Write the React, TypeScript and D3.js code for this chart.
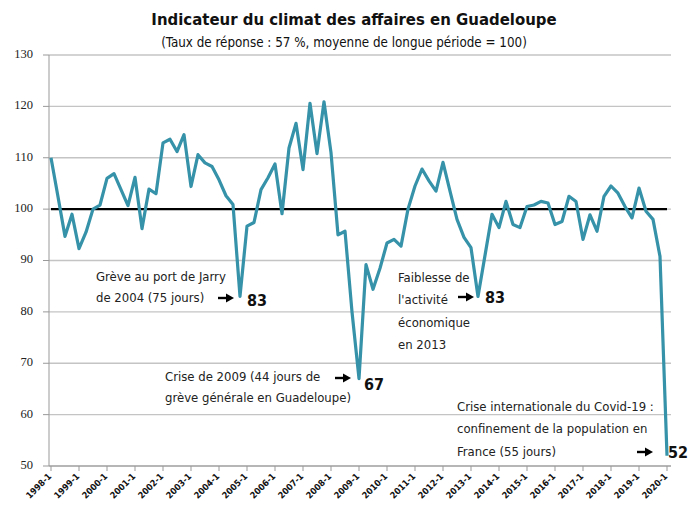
import { useEffect, useRef } from 'react'
import * as d3 from 'd3'

// quarterly index, 1998-1 .. 2020-1
const quarters: string[] = d3.range(89).map(i => `${1998 + Math.floor(i / 4)}-${(i % 4) + 1}`)
const values: number[] = [
  110, 102.4, 94.7, 99, 92.3, 95.5, 100, 100.8, 106, 106.9,
  103.8, 100.7, 106.2, 96.2, 103.9, 103, 112.9, 113.6, 111.2, 114.5,
  104.4, 110.6, 109, 108.3, 105.7, 102.6, 100.9, 83, 96.7, 97.4,
  103.8, 106.1, 108.8, 99.1, 111.9, 116.7, 107.7, 120.6, 110.8, 120.9,
  111, 95, 95.7, 80, 67, 89.2, 84.4, 88.5, 93.4, 94.1,
  92.8, 100, 104.5, 107.8, 105.5, 103.5, 109.1, 103.5, 98, 94.5,
  92.5, 83, 91, 99, 96.4, 101.5, 97, 96.4, 100.5, 100.8,
  101.5, 101.2, 97, 97.6, 102.5, 101.5, 94.1, 98.9, 95.7, 102.5,
  104.5, 103.1, 100.5, 98.3, 104.1, 99.6, 98, 90.8, 52
]
const yTicks = [50, 60, 70, 80, 90, 100, 110, 120, 130]
const tickLabels = quarters.filter((_, i) => i % 4 === 0)

const annotations = [
  { lines: ['Grève au port de Jarry', 'de 2004 (75 jours)'], idx: 27, label: '83' },
  { lines: ['Crise de 2009 (44 jours de', 'grève générale en Guadeloupe)'], idx: 44, label: '67' },
  { lines: ['Faiblesse de', "l'activité", 'économique', 'en 2013'], idx: 61, label: '83' },
  { lines: ['Crise internationale du Covid-19 :', 'confinement de la population en', 'France (55 jours)'], idx: 88, label: '52' }
]

const NARROW = "'Liberation Sans Narrow', 'DejaVu Sans Condensed', sans-serif"

export default function App() {
  const svgRef = useRef<SVGSVGElement>(null)

  useEffect(() => {
    if (!svgRef.current) return
    const svg = d3.select(svgRef.current)
    svg.selectAll('*').remove()

    const W = 695, H = 508
    svg.attr('width', W).attr('height', H)

    const x = d3.scaleLinear().domain([0, quarters.length - 1]).range([51, 667])
    const y = d3.scaleLinear().domain([50, 130]).range([466, 55])
    const gridRight = 671

    // title
    svg.append('text').attr('x', 354).attr('y', 25)
      .attr('text-anchor', 'middle').attr('font-family', NARROW)
      .attr('font-weight', 'bold').attr('font-size', 16.6).attr('fill', '#111')
      .text('Indicateur du climat des affaires en Guadeloupe')
    svg.append('text').attr('x', 344).attr('y', 47)
      .attr('text-anchor', 'middle').attr('font-family', NARROW)
      .attr('font-size', 13.3).attr('fill', '#111')
      .text('(Taux de réponse : 57 %, moyenne de longue période = 100)')

    // gridlines
    yTicks.forEach(t => {
      svg.append('line').attr('x1', 49).attr('x2', gridRight)
        .attr('y1', y(t)).attr('y2', y(t))
        .attr('stroke', '#c4c4c4').attr('stroke-width', 1.3)
      svg.append('line').attr('x1', 43).attr('x2', 49)
        .attr('y1', y(t)).attr('y2', y(t))
        .attr('stroke', '#999').attr('stroke-width', 1)
      svg.append('text').attr('x', 33).attr('y', y(t))
        .attr('text-anchor', 'end').attr('dominant-baseline', 'middle')
        .attr('font-family', "'Liberation Serif', serif").attr('font-size', 12.5)
        .attr('fill', '#222').text(t)
    })

    // axes lines
    svg.append('line').attr('x1', 49).attr('x2', 49).attr('y1', y(130)).attr('y2', y(50))
      .attr('stroke', '#999').attr('stroke-width', 1)
    svg.append('line').attr('x1', 49).attr('x2', gridRight).attr('y1', y(50)).attr('y2', y(50))
      .attr('stroke', '#999').attr('stroke-width', 1)

    // x ticks + rotated labels
    tickLabels.forEach((lab, k) => {
      const tx = x(k * 4)
      svg.append('line').attr('x1', tx).attr('x2', tx).attr('y1', y(50)).attr('y2', y(50) + 5)
        .attr('stroke', '#999').attr('stroke-width', 1)
      svg.append('text')
        .attr('transform', `translate(${tx + 1},${y(50) + 11}) rotate(-45)`)
        .attr('text-anchor', 'end').attr('font-family', NARROW)
        .attr('font-weight', 'bold').attr('font-size', 9).attr('fill', '#111')
        .text(lab)
    })

    // long-term average
    svg.append('line').attr('x1', x(0)).attr('x2', x(quarters.length - 1))
      .attr('y1', y(100)).attr('y2', y(100))
      .attr('stroke', '#000').attr('stroke-width', 2.2)

    // series
    const line = d3.line<number>().x((_, i) => x(i)).y(d => y(d))
    svg.append('path').datum(values)
      .attr('d', line)
      .attr('fill', 'none').attr('stroke', '#3592a8')
      .attr('stroke-width', 3.2).attr('stroke-linejoin', 'round')

    // annotations
    const textPos = [
      { tx: 96, ty: 277, dy: 21, ax: 218, ay: 298 },
      { tx: 165, ty: 377, dy: 21, ax: 335, ay: 378 },
      { tx: 398, ty: 278, dy: 22.5, ax: 458, ay: 297 },
      { tx: 457, ty: 407, dy: 22.5, ax: 637, ay: 452 }
    ]
    const labelPos = [
      { lx: 247, ly: 301 }, { lx: 364, ly: 385 }, { lx: 485, ly: 298 }, { lx: 668, ly: 453 }
    ]
    annotations.forEach((a, k) => {
      const p = textPos[k]
      a.lines.forEach((ln, j) => {
        svg.append('text').attr('x', p.tx).attr('y', p.ty + j * p.dy)
          .attr('dominant-baseline', 'middle').attr('font-family', NARROW)
          .attr('font-size', 13).attr('fill', '#222').text(ln)
      })
      // arrow
      svg.append('line').attr('x1', p.ax).attr('x2', p.ax + 10)
        .attr('y1', p.ay).attr('y2', p.ay).attr('stroke', '#000').attr('stroke-width', 2.4)
      svg.append('path')
        .attr('d', `M${p.ax + 8},${p.ay - 4.5} L${p.ax + 16},${p.ay} L${p.ax + 8},${p.ay + 4.5} Z`)
        .attr('fill', '#000')
      svg.append('text').attr('x', labelPos[k].lx).attr('y', labelPos[k].ly)
        .attr('dominant-baseline', 'middle').attr('font-family', NARROW)
        .attr('font-weight', 'bold').attr('font-size', 16).attr('fill', '#111')
        .text(a.label)
    })
  }, [])

  return <svg ref={svgRef} style={{ position: 'absolute', left: 0, top: 0, background: '#fff' }} />
}
